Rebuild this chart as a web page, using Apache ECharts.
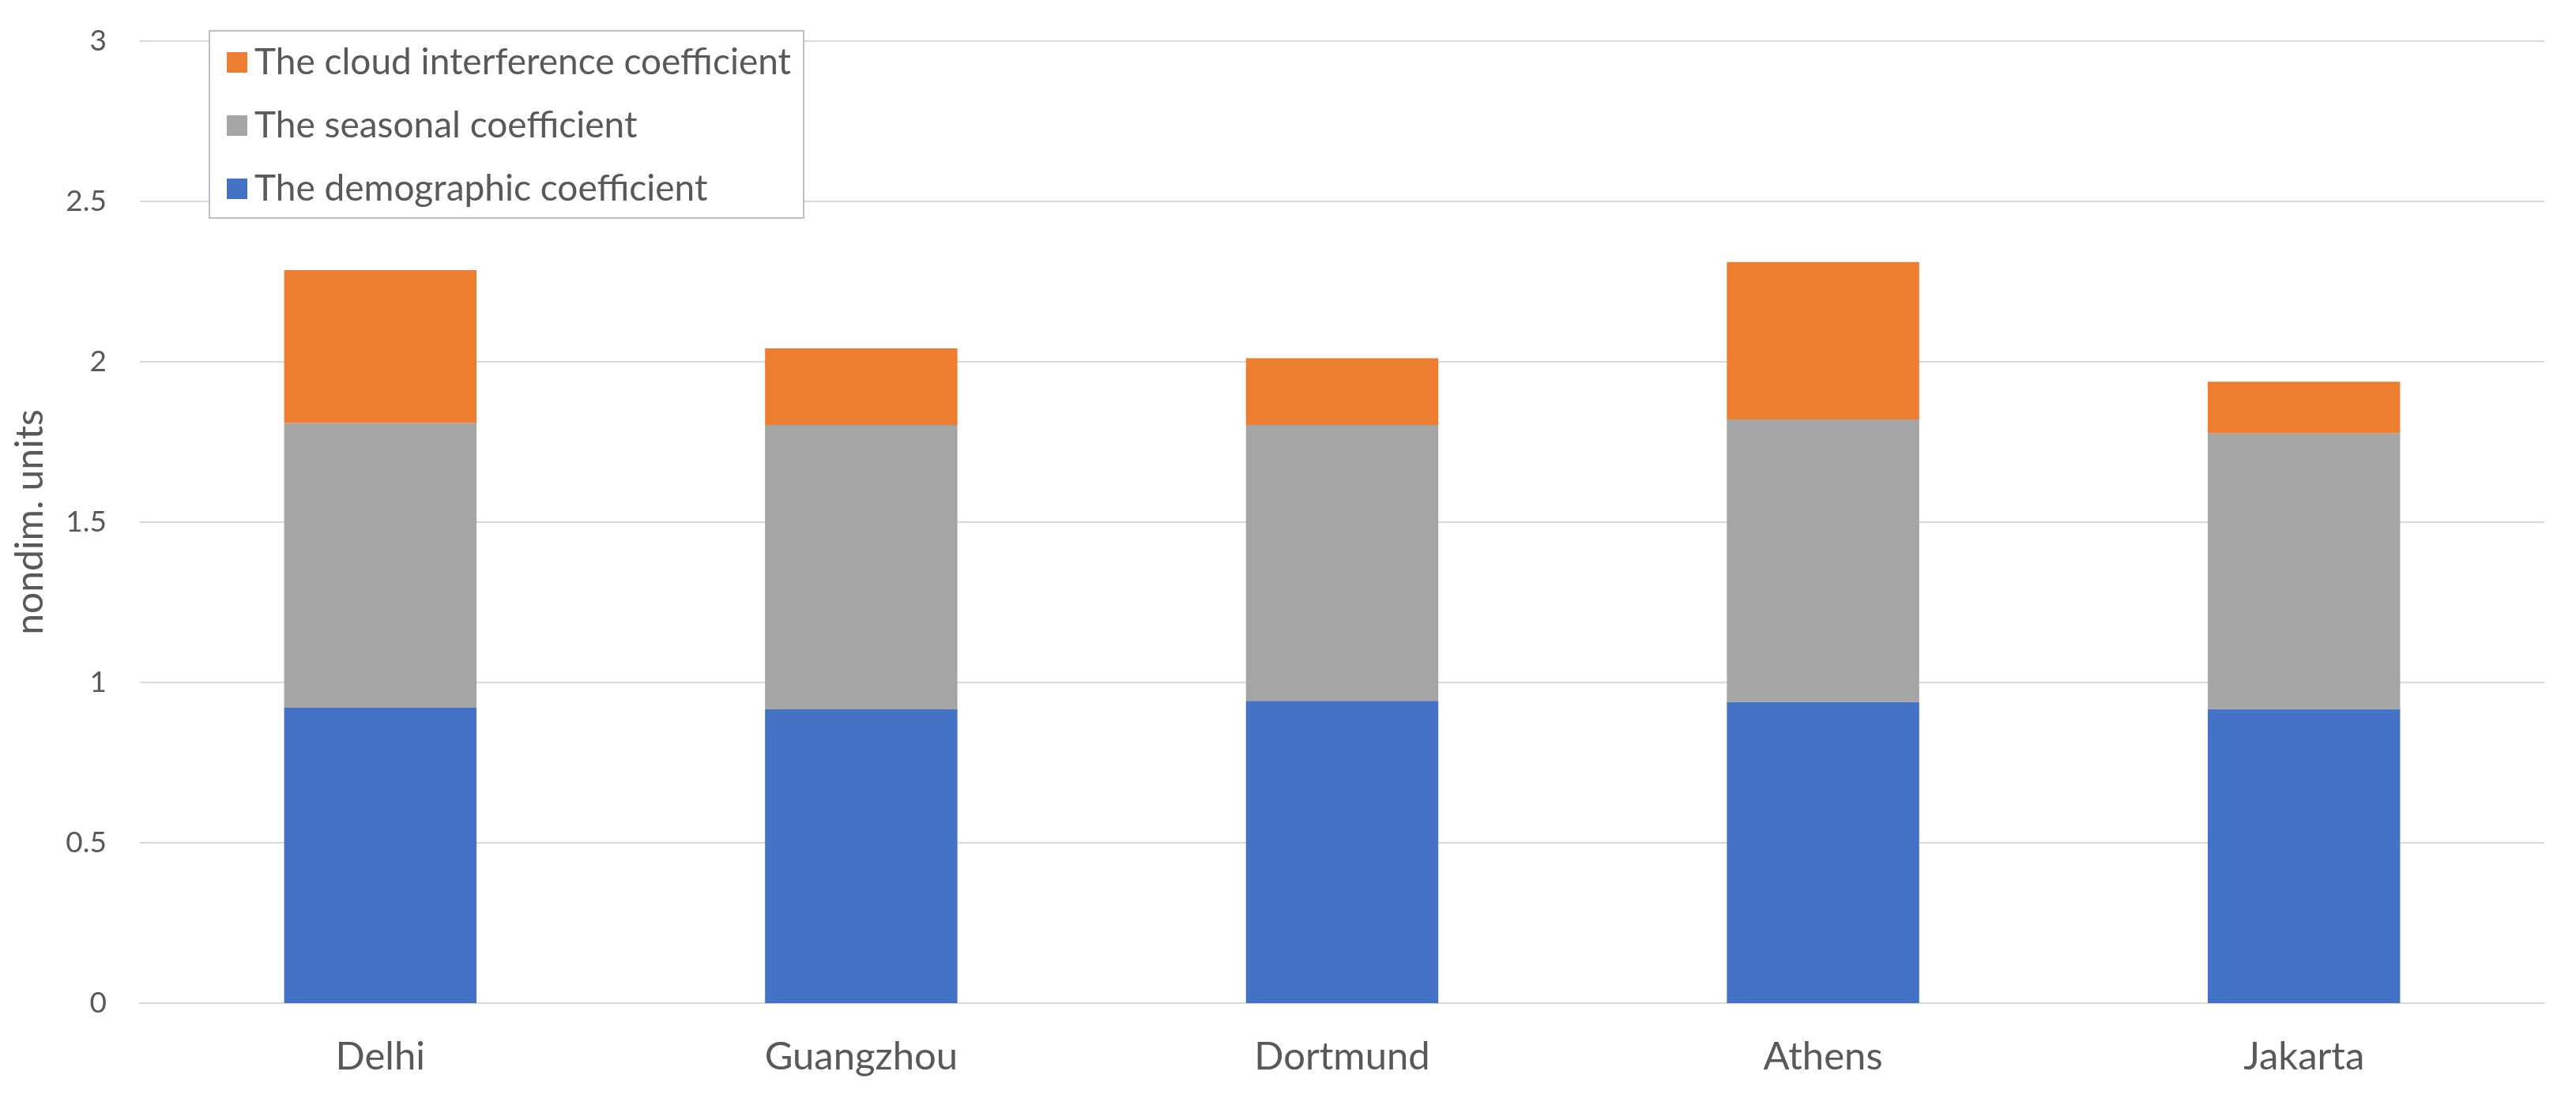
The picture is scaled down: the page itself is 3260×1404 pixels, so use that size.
<!DOCTYPE html>
<html>
<head>
<meta charset="utf-8">
<title>coefficients</title>
<script src="https://cdn.jsdelivr.net/npm/echarts@6/dist/echarts.min.js"></script>
<style>
    html, body {
        margin: 0;
        padding: 0;
        background: #fff;
    }
    #chart {
        width: 3260px;
        height: 1404px;
    }
</style>
</head>
<body>
<div id="chart"></div>
<script>
    // cities on the x axis
    var cities = ['Delhi', 'Guangzhou', 'Dortmund', 'Athens', 'Jakarta'];
    // stacked parts, bottom to top
    var demographic = [0.921, 0.916, 0.943, 0.939, 0.917];
    var seasonal = [0.888, 0.887, 0.860, 0.881, 0.860];
    var cloud = [0.477, 0.239, 0.208, 0.491, 0.161];
    var yTicks = [0, 0.5, 1, 1.5, 2, 2.5, 3];

    var names = [
        'The demographic coefficient',
        'The seasonal coefficient',
        'The cloud interference coefficient'
    ];
    var font = 'Lato';
    var textColor = '#595959';

    var chart = echarts.init(document.getElementById('chart'));
    chart.setOption({
        animation: false,
        color: ['#4472C4', '#A5A5A5', '#ED7D31'],
        textStyle: { fontFamily: font },
        legend: {
            orient: 'vertical',
            left: 265,
            top: 39,
            data: [names[2], names[1], names[0]],
            itemWidth: 26,
            itemHeight: 26,
            itemGap: 30,
            padding: [15, 16, 12, 22],
            borderColor: '#bfbfbf',
            borderWidth: 2,
            backgroundColor: '#fff',
            icon: 'rect',
            textStyle: {
                fontFamily: font,
                fontSize: 46,
                color: textColor,
                lineHeight: 50,
                padding: [0, 0, 0, 4]
            }
        },
        grid: {
            left: 177,
            right: 40,
            top: 52,
            bottom: 134,
            outerBoundsMode: 'none'
        },
        xAxis: {
            type: 'category',
            data: cities,
            axisLine: { lineStyle: { color: '#d9d9d9', width: 2 } },
            axisTick: { show: false },
            axisLabel: {
                fontFamily: font,
                fontSize: 49,
                color: textColor,
                margin: 44
            }
        },
        yAxis: {
            type: 'value',
            min: yTicks[0],
            max: yTicks[yTicks.length - 1],
            interval: yTicks[1] - yTicks[0],
            name: 'nondim. units',
            nameLocation: 'middle',
            nameRotate: 90,
            nameGap: 114,
            nameTextStyle: {
                fontFamily: font,
                fontSize: 48,
                color: textColor
            },
            axisLine: { show: false },
            axisTick: { show: false },
            splitLine: { lineStyle: { color: '#d9d9d9', width: 2 } },
            axisLabel: {
                fontFamily: font,
                fontSize: 37,
                color: textColor,
                margin: 42
            }
        },
        series: [
            {
                name: names[0],
                type: 'bar',
                stack: 'total',
                barCategoryGap: '60%',
                data: demographic
            },
            {
                name: names[1],
                type: 'bar',
                stack: 'total',
                data: seasonal
            },
            {
                name: names[2],
                type: 'bar',
                stack: 'total',
                data: cloud
            }
        ]
    });
</script>
</body>
</html>
